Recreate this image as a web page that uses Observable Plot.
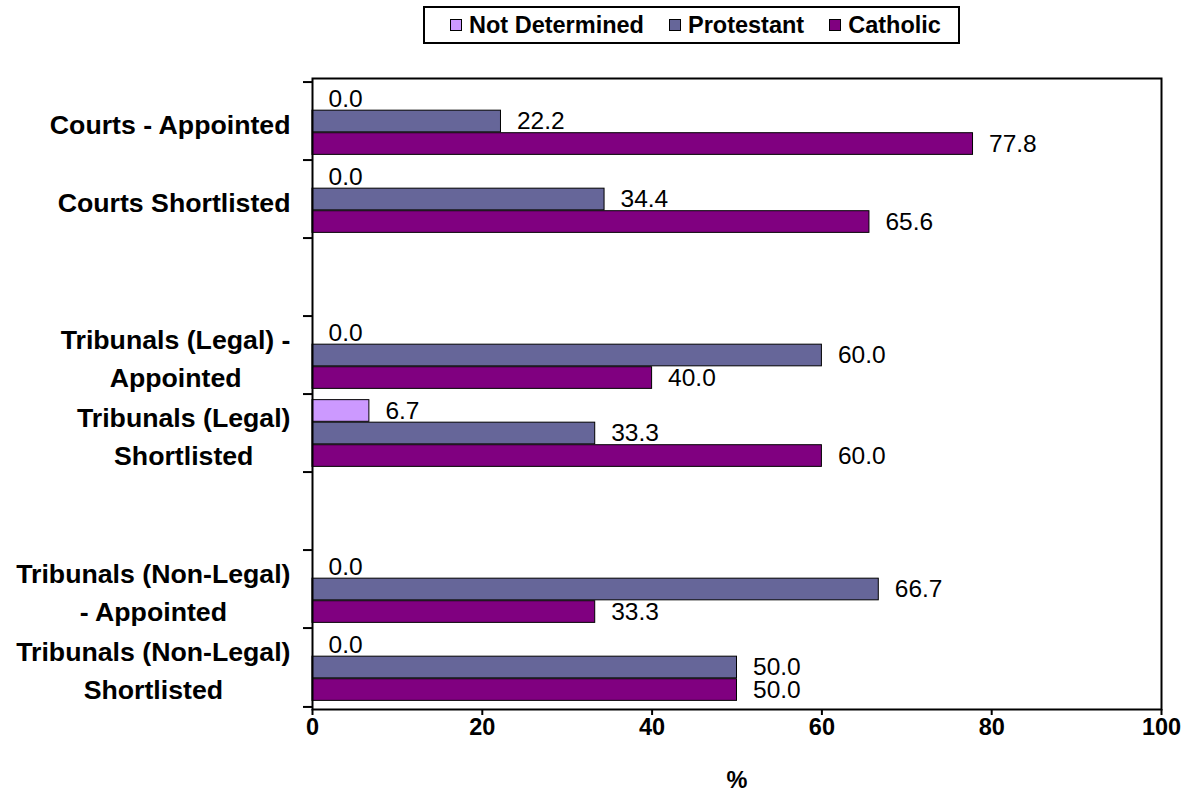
<!DOCTYPE html>
<html>
<head>
<meta charset="utf-8">
<script src="https://cdn.jsdelivr.net/npm/d3@7"></script>
<script src="https://cdn.jsdelivr.net/npm/@observablehq/plot@0.6"></script>
<style>
  body { margin: 0; background: #fff; font-family: "Liberation Sans", Arial, sans-serif; }
  #chart { position: relative; width: 1184px; height: 793px; }
  #legend {
    position: absolute; left: 423px; top: 6px; width: 537px; height: 38px;
    box-sizing: border-box; border: 2px solid #000; background: #fff;
    display: flex; align-items: center; padding-left: 25px; gap: 25px;
    font-weight: bold; font-size: 23.5px; color: #000;
  }
  .item { display: flex; align-items: center; gap: 7px; }
  .sw { width: 10px; height: 10px; border: 1px solid #000; }
  #plot { position: absolute; left: 0; top: 60px; }
</style>
</head>
<body>
<div id="chart">
  <div id="legend"></div>
  <div id="plot"></div>
</div>
<script>
// Share of appointments and shortlisted candidates by community background (%)
const categories = [
  "Courts - Appointed",
  "Courts Shortlisted",
  "Tribunals (Legal) - Appointed",
  "Tribunals (Legal) Shortlisted",
  "Tribunals (Non-Legal) - Appointed",
  "Tribunals (Non-Legal) Shortlisted"
];
const categoryLabels = [
  "Courts - Appointed",
  "Courts Shortlisted",
  "Tribunals (Legal) -\nAppointed",
  "Tribunals (Legal)\nShortlisted",
  "Tribunals (Non-Legal)\n- Appointed",
  "Tribunals (Non-Legal)\nShortlisted"
];
const series = ["Not Determined", "Protestant", "Catholic"];
const seriesColors = ["#CC99FF", "#666699", "#800080"];
const notDetermined = [0.0, 0.0, 0.0, 6.7, 0.0, 0.0];
const protestant = [22.2, 34.4, 60.0, 33.3, 66.7, 50.0];
const catholic = [77.8, 65.6, 40.0, 60.0, 33.3, 50.0];
const xTicks = [0, 20, 40, 60, 80, 100];

// Empty rows separate courts, legal tribunals and non-legal tribunals
const rows = [
  categories[0], categories[1], "gap-1",
  categories[2], categories[3], "gap-2",
  categories[4], categories[5]
];

const seriesValues = [notDetermined, protestant, catholic];
const table = series.flatMap((s, k) =>
  categories.map((c, i) => ({category: c, series: s, k, value: seriesValues[k][i]}))
);
const labelOf = new Map(categories.map((c, i) => [c, categoryLabels[i]]));

// Legend
const legend = document.getElementById("legend");
series.forEach((s, k) => {
  const item = document.createElement("div");
  item.className = "item";
  const sw = document.createElement("span");
  sw.className = "sw";
  sw.style.background = seriesColors[k];
  const label = document.createElement("span");
  label.textContent = s;
  item.append(sw, label);
  legend.append(item);
});

// Layout
const width = 1184, height = 733;
const marginTop = 18, marginBottom = 84, marginLeft = 312, marginRight = 23;
const step = (height - marginTop - marginBottom) / rows.length;
const unit = step / 7; // each bar is 2 units thick, with half a bar of space around each group

const marks = [];
series.forEach((s, k) => {
  marks.push(Plot.barX(table.filter(d => d.k === k), {
    x: "value", y: "category",
    fill: seriesColors[k], stroke: "#000", strokeWidth: 1,
    insetTop: unit * (0.5 + 2 * k), insetBottom: unit * (4.5 - 2 * k)
  }));
});
series.forEach((s, k) => {
  marks.push(Plot.text(table.filter(d => d.k === k), {
    x: "value", y: "category", text: d => d.value.toFixed(1),
    textAnchor: "start", dx: 16, dy: unit * 2 * (k - 1),
    fontSize: 24.5, fill: "#000"
  }));
});

const svg = Plot.plot({
  width, height, marginTop, marginBottom, marginLeft, marginRight,
  style: {fontFamily: "Liberation Sans, Arial, sans-serif", fontSize: "23px", color: "#000", background: "#fff", overflow: "visible"},
  x: {domain: [0, 100]},
  y: {domain: rows, padding: 0},
  marks: [
    ...marks,
    // category labels
    Plot.axisY({label: null, tickSize: 0, tickPadding: 22, fontSize: 26.7, fontWeight: "bold", lineHeight: 1.42,
      tickFormat: d => labelOf.get(d) ?? ""}),
    // tick marks between categories
    Plot.axisY({label: null, tickSize: 9, strokeWidth: 2, tickFormat: () => "", dy: -step / 2}),
    Plot.axisY({label: null, ticks: [rows[rows.length - 1]], tickSize: 9, strokeWidth: 2, tickFormat: () => "", dy: step / 2}),
    Plot.axisX({ticks: xTicks, tickSize: 6, strokeWidth: 2, tickPadding: 3, fontSize: 23.5, fontWeight: "bold",
      label: "%", labelAnchor: "center", labelArrow: "none", labelOffset: 78}),
    Plot.frame({stroke: "#000", strokeWidth: 2})
  ]
});
document.getElementById("plot").append(svg);

// Centre the lines of two-line category labels on each other, keeping the block right-aligned
svg.querySelectorAll('g[aria-label="y-axis tick label"] text').forEach(t => {
  const spans = t.querySelectorAll("tspan");
  if (spans.length < 2) return;
  const w = Math.max(...Array.from(spans, s => s.getComputedTextLength()));
  const x0 = +(t.getAttribute("x") || 0);
  t.setAttribute("text-anchor", "middle");
  spans.forEach(s => s.setAttribute("x", x0 - w / 2));
});
</script>
</body>
</html>
